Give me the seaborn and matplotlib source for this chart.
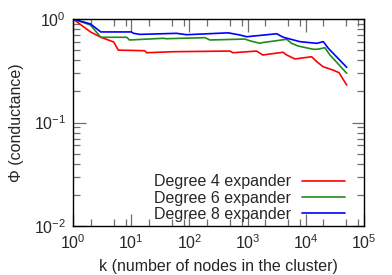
import numpy as np
import pandas as pd
import matplotlib
matplotlib.use("Agg")
import matplotlib.pyplot as plt
import seaborn as sns
from matplotlib.ticker import LogLocator, FixedLocator, NullFormatter

# data
k_deg4 = [1, 2, 3, 5, 6, 17, 18.5, 52, 500, 560, 1430, 1820, 4060, 4700, 6520, 12600, 15400, 19800, 29300, 37200, 50500]
phi_deg4 = [1.0, 0.75, 0.666, 0.60, 0.50, 0.494, 0.472, 0.483, 0.49, 0.472, 0.49, 0.449, 0.477, 0.449, 0.411, 0.432, 0.387, 0.346, 0.321, 0.303, 0.230]

k_deg6 = [1, 2, 3, 8.4, 9.3, 35.6, 40, 185, 226, 900, 1100, 1630, 1750, 4700, 5700, 7400, 13400, 16000, 21300, 26000, 50500]
phi_deg6 = [1.0, 0.875, 0.666, 0.666, 0.627, 0.651, 0.645, 0.66, 0.627, 0.64, 0.615, 0.582, 0.59, 0.637, 0.582, 0.548, 0.51, 0.51, 0.528, 0.449, 0.299]

k_deg8 = [1, 2, 3, 10, 11, 14, 60, 90, 466, 740, 965, 3160, 4100, 7950, 15400, 20000, 24400, 50500]
phi_deg8 = [1.0, 0.895, 0.75, 0.75, 0.727, 0.71, 0.727, 0.705, 0.735, 0.70, 0.674, 0.72, 0.666, 0.604, 0.582, 0.604, 0.521, 0.341]

labels = ["Degree 4 expander", "Degree 6 expander", "Degree 8 expander"]
colors = ["#ff0000", "#1e8c1e", "#0000ff"]
x_ticks = [1, 10, 100, 1e3, 1e4, 1e5]
x_ticklabels = [r"$10^{0}$", r"$10^{1}$", r"$10^{2}$", r"$10^{3}$", r"$10^{4}$", r"$10^{5}$"]
y_ticks = [1e-2, 1e-1, 1]
y_ticklabels = [r"$10^{-2}$", r"$10^{-1}$", r"$10^{0}$"]

df = pd.concat([
    pd.DataFrame({"k": k_deg4, "phi": phi_deg4, "series": labels[0]}),
    pd.DataFrame({"k": k_deg6, "phi": phi_deg6, "series": labels[1]}),
    pd.DataFrame({"k": k_deg8, "phi": phi_deg8, "series": labels[2]}),
])

sns.set_style("white")
plt.rcParams["font.family"] = ["Liberation Sans", "DejaVu Sans"]
plt.rcParams["mathtext.fontset"] = "custom"
plt.rcParams["mathtext.rm"] = "Liberation Sans"
plt.rcParams["mathtext.it"] = "Liberation Sans"

FS = 11.5

fig = plt.figure(figsize=(3.92, 2.75), dpi=100)
ax = fig.add_axes([73/392, 1-226/275, (364-73)/392, (226-19)/275])

sns.lineplot(data=df, x="k", y="phi", hue="series", palette=colors, hue_order=labels,
             estimator=None, sort=False, units="series", linewidth=1.2, ax=ax)

ax.set_xscale("log")
ax.set_yscale("log")
ax.set_xlim(1, 1e5)
ax.set_ylim(1e-2, 1)

ax.xaxis.set_major_locator(FixedLocator(x_ticks))
ax.yaxis.set_major_locator(FixedLocator(y_ticks))
ax.xaxis.set_minor_locator(LogLocator(base=10, subs=[2, 5, 8]))
ax.yaxis.set_minor_locator(LogLocator(base=10, subs=np.arange(2, 10)))
ax.xaxis.set_minor_formatter(NullFormatter())
ax.yaxis.set_minor_formatter(NullFormatter())
ax.set_xticklabels(x_ticklabels)
ax.set_yticklabels(y_ticklabels)

ax.tick_params(which="both", direction="in", top=True, right=True, bottom=True, left=True,
               color="#6e6e6e", labelsize=FS, pad=5)
ax.tick_params(which="major", length=9, width=0.9)
ax.tick_params(which="minor", length=4.8, width=0.9)
for s in ax.spines.values():
    s.set_color("black")
    s.set_linewidth(1.0)

ax.set_xlabel("k (number of nodes in the cluster)", fontsize=FS, labelpad=5)
ax.set_ylabel("\u03a6 (conductance)", fontsize=FS, labelpad=7)

leg = ax.legend(loc="lower right", frameon=False, markerfirst=False, fontsize=FS,
                handlelength=2.7, labelspacing=0.08, borderaxespad=0.0, borderpad=0.25,
                handletextpad=0.7, bbox_to_anchor=(0.948, 0.0))

fig.savefig("out.png", dpi=100)
